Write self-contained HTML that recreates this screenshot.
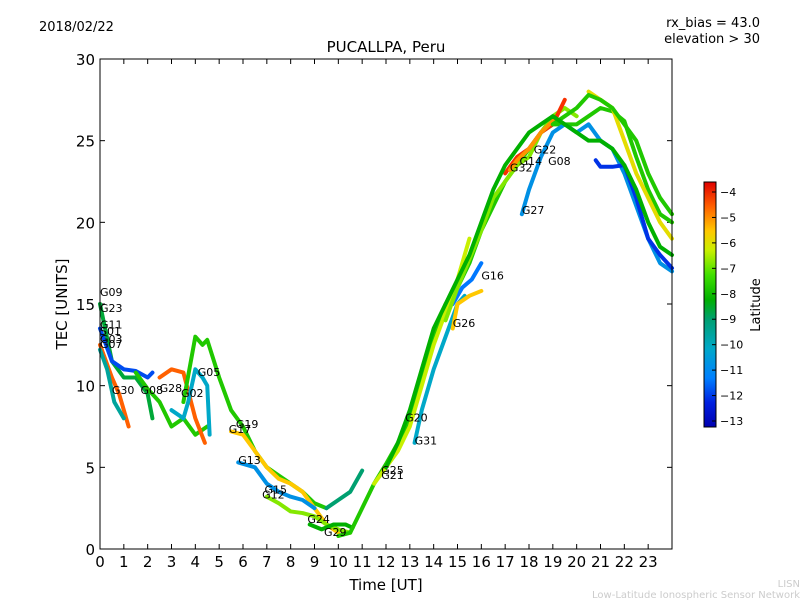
<!DOCTYPE html>
<html><head><meta charset="utf-8"><style>
body{margin:0;background:#fff}
svg text{font-family:"DejaVu Sans","Liberation Sans",sans-serif}
</style></head><body>
<svg id="c" width="800" height="600" xmlns="http://www.w3.org/2000/svg">
<defs><linearGradient id="jet" x1="0" y1="1" x2="0" y2="0">
<stop offset="0" stop-color="#0000b0"/><stop offset="0.1" stop-color="#0020e0"/><stop offset="0.2" stop-color="#0080ff"/><stop offset="0.32" stop-color="#00a8c8"/><stop offset="0.44" stop-color="#00a070"/><stop offset="0.52" stop-color="#00b000"/><stop offset="0.62" stop-color="#40e000"/><stop offset="0.72" stop-color="#c8f000"/><stop offset="0.8" stop-color="#ffc800"/><stop offset="0.9" stop-color="#ff6000"/><stop offset="1" stop-color="#e00000"/></linearGradient></defs>
<text x="39" y="31" font-size="13">2018/02/22</text>
<text x="760" y="27" font-size="13" text-anchor="end">rx_bias = 43.0</text>
<text x="760" y="43" font-size="13" text-anchor="end">elevation &gt; 30</text>
<text x="386" y="52" font-size="15" text-anchor="middle">PUCALLPA, Peru</text>
<text x="386" y="590" font-size="15" text-anchor="middle">Time [UT]</text>
<text x="67" y="304" font-size="15" text-anchor="middle" transform="rotate(-90 67 304)">TEC [UNITS]</text>
<text x="800" y="587" font-size="10" fill="#ccc" text-anchor="end">LISN</text>
<text x="800" y="598" font-size="10" fill="#ccc" text-anchor="end">Low-Latitude Ionospheric Sensor Network</text>
<g id="plot"></g>
<rect x="100" y="59" width="572" height="490" fill="none" stroke="#000"/>
<rect x="704" y="182" width="12" height="245" fill="url(#jet)" stroke="#000"/>
<text x="760" y="305" font-size="13" text-anchor="middle" transform="rotate(-90 760 305)">Latitude</text>
<g id="cb"></g>
</svg>
<script>
const xTicks=[0,1,2,3,4,5,6,7,8,9,10,11,12,13,14,15,16,17,18,19,20,21,22,23];
const yTicks=[0,5,10,15,20,25,30];
const cbTicks=[-4,-5,-6,-7,-8,-9,-10,-11,-12,-13];
const seriesNames=["G09","G11","G30","G08","G28","G02","G05","G19","G13","G15","G24","G29","M1","G21","G31","G26","G16","G32","G27","G27b","G22","G14","U1","V1","A1","W1"];
const seriesLat=[-9.5,-12.5,-5,-8.5,-5,-11,-8.5,-6,-11.5,-7.5,-9,-8.5,-10,-7,-11,-6,-12,-7.5,-11.5,-12.8,-4.5,-5.5,-6.5,-8.5,-10.5,-9];
const seriesT=[
[0,0.5,1,1.5,2,2.2],
[0,0.5,1,1.5,2,2.2],
[0,0.5,0.8,1.2],
[1.5,2,2.5,3,3.5,4,4.5],
[2.5,3,3.5,4,4.4],
[3,3.5,3.7,4,4.3,4.5,4.6],
[3.5,4,4.3,4.5,5,5.5,6,6.5,7,7.5,8,8.5,9,9.5],
[5.5,6,6.5,7,7.5,8,8.5,9,9.5,10],
[5.8,6.5,7,7.5,8,8.5,9],
[7,7.5,8,8.5,9,9.5,10,10.5],
[8.8,9.3,9.8,10.3,10.6],
[10,10.5,11,11.5,12,12.5,13,13.5,14,14.5,15,15.5,16,16.5,17,17.5,18,18.5,19,19.5,20,20.5,21,21.5,22,22.5,23,23.5,24],
[9.5,10,10.5,11],
[11.5,12,12.5,13,13.5,14,14.5,15,15.5],
[13.2,13.5,14,14.5,15,15.3],
[14.8,15,15.5,16],
[14.8,15.2,15.6,16],
[14.5,15,16,16.5,17,17.5,18,18.5,19,19.5,20],
[17.7,18,18.5,19,19.5,20,20.5,21,21.5,22,22.5,23,23.5,24],
[20.8,21,21.5,22,22.5,23,23.5,24],
[17,17.5,18,18.5,19,19.5],
[17.2,17.5,18,18.5,19],
[20.5,21,21.5,22,22.5,23,23.5,24],
[19,19.5,20,20.5,21,21.5,22,22.5,23,23.5,24],
[0,0.3,0.6,1],
[12,12.5,13,13.5,14,14.5,15,15.5,16,16.5,17,17.5,18,18.5,19,19.5,20,20.5,21,21.5,22,22.5,23,23.5,24]
];
const seriesV=[
[15,11.5,10.5,10.5,9.5,8],
[13.5,11.5,11,10.9,10.5,10.8],
[12.5,10.5,9.5,7.5],
[10.8,9.8,9,7.5,8,7,7.5],
[10.5,11,10.8,8,6.5],
[8.5,8,9,11,10.5,10,7],
[9,13,12.5,12.8,10.5,8.5,7.5,6,5,4.5,4,3.5,2.8,2.5],
[7.2,7,6,5,4.3,4,3.5,2.5,1.5,1],
[5.3,5,4,3.5,3.2,3,2.5],
[3.2,2.8,2.3,2.2,2,1.5,1.2,1],
[1.5,1.2,1.5,1.5,1.3],
[0.8,1,2.5,4,5.2,6.5,8,10.5,13,15,16,17.5,19.5,21,22.5,23.5,24.5,25.5,26,26,26,26.5,27,26.8,26.2,24,22,20.5,20],
[2.5,3,3.5,4.8],
[4,5,6,7.5,10,12.5,14.5,16.5,19],
[6.5,8.5,11,13,15,15.5],
[13.5,15,15.5,15.8],
[15,16,16.5,17.5],
[14,16,19.5,21.5,22.5,23.5,24,25.5,26.5,27,26.5],
[20.5,22,24,25.5,26,25.5,26,25,24.5,23,21,19,17.5,17],
[23.8,23.4,23.4,23.5,21.5,19,18,17.2],
[23,24,24.5,25.5,26,27.5],
[23.2,23.8,24.5,25.5,26.2],
[28,27.5,27,25,23,21.5,20,19],
[26,26.5,27,27.8,27.5,27,26,25,23,21.5,20.5],
[12.2,11,9,8],
[5,6.5,8.5,11,13.5,15,16.5,18,20,22,23.5,24.5,25.5,26,26.5,26,25.5,25,25,24.5,23.5,22,20,18.5,18]
];
const labels=[["G09",0,15.5],["G23",0,14.5],["G11",0,13.5],["S01",0,13.1],["G03",0,12.6],["G07",0,12.3],["G30",0.5,9.5],["G08",1.7,9.5],["G28",2.5,9.6],["G02",3.4,9.3],["G05",4.1,10.6],["G19",5.7,7.4],["G17",5.4,7.1],["G13",5.8,5.2],["G15",6.9,3.4],["G12",6.8,3.1],["G24",8.7,1.6],["G29",9.4,0.8],["G25",11.8,4.6],["G21",11.8,4.3],["G20",12.8,7.8],["G31",13.2,6.4],["G26",14.8,13.6],["G16",16,16.5],["G32",17.2,23.1],["G14",17.6,23.5],["G08",18.8,23.5],["G22",18.2,24.2],["G27",17.7,20.5]];
const X=h=>100+h*572/24, Y=v=>549-v*490/30;
const CY=l=>192+(-4-l)*(421-192)/9;
const cmapLat=[-13.5,-13,-12,-11,-10,-9,-8,-7,-6,-5,-4,-3.5];
const cmapRGB=[[0,0,176],[0,32,224],[0,120,255],[0,168,200],[0,160,112],[0,176,0],[64,224,0],[200,240,0],[255,200,0],[255,96,0],[240,0,0],[224,0,0]];
function jet(l){for(let i=0;i<cmapLat.length-1;i++){if(l<=cmapLat[i+1]||i==cmapLat.length-2){const f=Math.max(0,Math.min(1,(l-cmapLat[i])/(cmapLat[i+1]-cmapLat[i])));const c=cmapRGB[i].map((v,k)=>Math.round(v+(cmapRGB[i+1][k]-v)*f));return `rgb(${c.join(',')})`;}}}
const NS="http://www.w3.org/2000/svg",P=document.getElementById('plot'),CB=document.getElementById('cb');
function mk(tag,at,par){const e=document.createElementNS(NS,tag);for(const k in at)e.setAttribute(k,at[k]);par.appendChild(e);return e;}
xTicks.forEach(h=>{const l=mk('line',{x1:X(h),x2:X(h),y1:549,y2:544,stroke:'#000'},P);


mk('line',{x1:X(h),x2:X(h),y1:59,y2:64,stroke:'#000'},P);
const t=mk('text',{x:X(h),y:567,'font-size':15,'text-anchor':'middle'},P);t.textContent=h;

});
yTicks.forEach(v=>{const l=mk('line',{x1:100,x2:105,y1:Y(v),y2:Y(v),stroke:'#000'},P);


mk('line',{x1:667,x2:672,y1:Y(v),y2:Y(v),stroke:'#000'},P);
const t=mk('text',{x:95,y:Y(v)+6,'font-size':15,'text-anchor':'end'},P);t.textContent=v;

});
seriesT.forEach((ts,i)=>{const pts=ts.map((h,j)=>X(h)+','+Y(seriesV[i][j])).join(' ');
const p=mk('polyline',{points:pts,fill:'none',stroke:jet(seriesLat[i]),'stroke-width':4,'stroke-linejoin':'round','stroke-linecap':'round'},P);

});
labels.forEach(a=>{const t=mk('text',{x:X(a[1]),y:Y(a[2]),'font-size':11},P);t.textContent=a[0];

});
cbTicks.forEach(l=>{mk('line',{x1:716,x2:712,y1:CY(l),y2:CY(l),stroke:'#000'},CB);
const t=mk('text',{x:720,y:CY(l)+4,'font-size':11},CB);t.textContent='\u2212'+(-l);

});
</script>
</body></html>
